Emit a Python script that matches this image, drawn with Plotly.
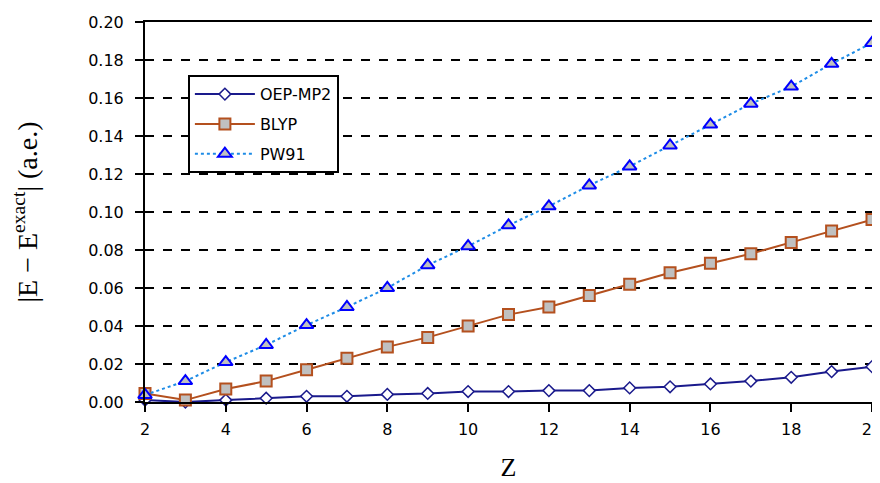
import plotly.graph_objects as go

Z = list(range(2, 21))
oep_mp2 = [0.001, 0.000, 0.001, 0.002, 0.003, 0.003, 0.004, 0.0045, 0.0055, 0.0055,
           0.006, 0.006, 0.0074, 0.008, 0.0095, 0.011, 0.013, 0.016, 0.0186]
blyp = [0.0045, 0.001, 0.0068, 0.011, 0.017, 0.023, 0.029, 0.034, 0.040, 0.046,
        0.050, 0.056, 0.062, 0.068, 0.073, 0.078, 0.084, 0.090, 0.096]
pw91 = [0.0037, 0.011, 0.021, 0.030, 0.0405, 0.050, 0.060, 0.072, 0.082, 0.093,
        0.103, 0.114, 0.124, 0.135, 0.146, 0.157, 0.166, 0.178, 0.189]

x_ticks = list(range(2, 21, 2))
y_ticks = [round(0.02 * i, 2) for i in range(11)]
y_labels = ["%.2f" % v for v in y_ticks]

fig = go.Figure()
fig.add_trace(go.Scatter(
    x=Z, y=oep_mp2, name="OEP-MP2", mode="lines+markers", legendgroup="a",
    line=dict(color="#1a1a8c", width=2),
    marker=dict(symbol="diamond", size=9, color="white", line=dict(color="#1a1a8c", width=1.5)),
    cliponaxis=False))
fig.add_trace(go.Scatter(
    x=Z, y=blyp, name="BLYP", mode="lines+markers", legendgroup="b",
    line=dict(color="#b4501e", width=2),
    marker=dict(symbol="square", size=11, color="#c0c0c0", line=dict(color="#b4501e", width=2)),
    cliponaxis=False))
fig.add_trace(go.Scatter(
    x=Z, y=pw91, name="PW91", mode="lines+markers", legendgroup="c",
    line=dict(color="#1e8ce6", width=2, dash="dot"),
    marker=dict(symbol="triangle-up", size=12, color="#c0c0c0", line=dict(color="#0000ff", width=2)),
    cliponaxis=False))

# the page body adds an 8px offset, so margins are shifted to compensate
fig.update_layout(
    width=880, height=483,
    margin=dict(l=137, r=16, t=14, b=89, autoexpand=False),
    paper_bgcolor="white", plot_bgcolor="white",
    font=dict(family="DejaVu Sans", color="black", size=14),
    legend=dict(x=0.059, y=0.86, xanchor="left", yanchor="top",
                bgcolor="white", bordercolor="black", borderwidth=2,
                font=dict(family="DejaVu Sans", size=16, color="black"),
                itemwidth=60, tracegroupgap=6),
    xaxis=dict(range=[2, 20], tickvals=x_ticks, ticktext=[str(v) for v in x_ticks],
               automargin=False,
               showgrid=False, zeroline=False, showline=True, linecolor="black", linewidth=2,
               mirror=True, ticks="outside", ticklen=8, tickwidth=2, tickcolor="black",
               ticklabelstandoff=4, tickfont=dict(family="DejaVu Sans", size=16),
               title=dict(text="Z", font=dict(family="Liberation Serif", size=26), standoff=20)),
    yaxis=dict(range=[0, 0.2], tickvals=y_ticks, ticktext=y_labels,
               automargin=False,
               showgrid=True, gridcolor="black", gridwidth=2, griddash="dash",
               zeroline=False, showline=True, linecolor="black", linewidth=2,
               mirror=True, ticks="outside", ticklen=8, tickwidth=2, tickcolor="black",
               ticklabelstandoff=8, tickfont=dict(family="DejaVu Sans", size=16),
               title=dict(text="|E \u2212 E<sup>exact</sup>| (a.e.)",
                          font=dict(family="Liberation Serif", size=28), standoff=46)),
)

fig.write_html("out.html")
